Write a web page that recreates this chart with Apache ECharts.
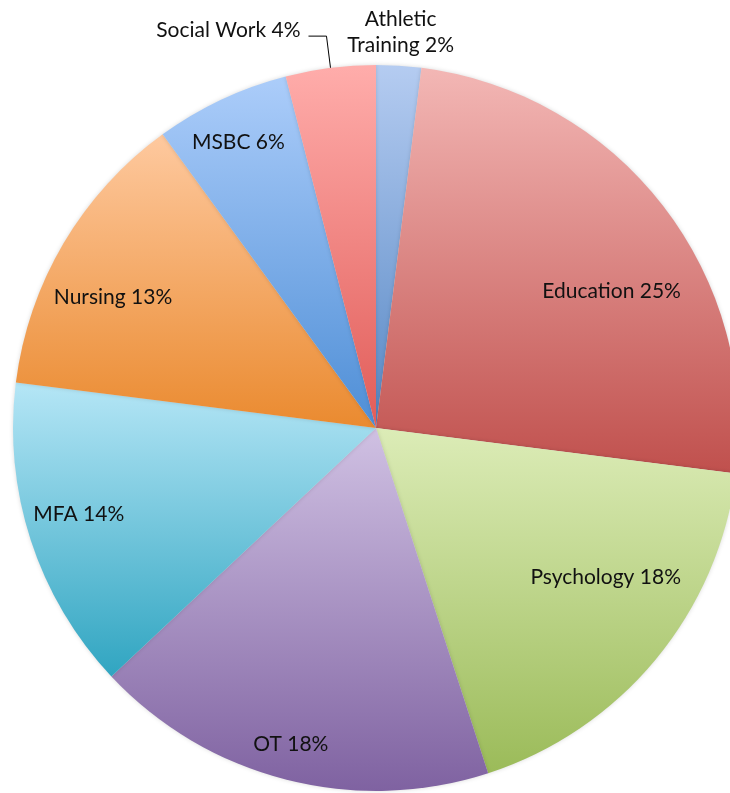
<!DOCTYPE html>
<html>
<head>
<meta charset="utf-8">
<script src="https://cdn.jsdelivr.net/npm/echarts@6/dist/echarts.min.js"></script>
<style>
  html, body { margin: 0; padding: 0; background: #fff; }
  #main { width: 730px; height: 793px; }
</style>
</head>
<body>
<div id="main"></div>
<script>
// slices, clockwise from 12 o'clock
var categories = ['Athletic Training', 'Education', 'Psychology', 'OT', 'MFA', 'Nursing', 'MSBC', 'Social Work'];
var shares = [2, 25, 18, 18, 14, 13, 6, 4];
var labelText = ['Athletic\nTraining 2%', 'Education 25%', 'Psychology 18%', 'OT 18%', 'MFA 14%', 'Nursing 13%', 'MSBC 6%', 'Social Work 4%'];

// top / bottom colour of each slice's gradient
var topColors = ['#b5ccf1', '#f3b7b5', '#dcecb7', '#d0c1e3', '#b5e6f6', '#fec99f', '#accdfa', '#ffadab'];
var bottomColors = ['#5687c4', '#c0504d', '#9bbb59', '#7f62a1', '#30a5c1', '#ea8a2f', '#4e8ed6', '#e15c58'];

var outsideNames = ['Athletic Training', 'Social Work'];

// nudges so the labels sit where the original (excel "best fit") put them
var labelShift = [[-15, -4], [-3, 48], [-3, -43], [-10, 24], [-10, -7], [-3, 23], [-9, -13], [-3, -6]];

function grad(i) {
  return new echarts.graphic.LinearGradient(0, 0, 0, 1, [
    { offset: 0, color: topColors[i] },
    { offset: 1, color: bottomColors[i] }
  ]);
}

var font = { fontFamily: 'Lato', fontSize: 21, color: '#111' };

var mainData = categories.map(function (name, i) {
  var outside = outsideNames.indexOf(name) >= 0;
  return {
    name: name,
    value: shares[i],
    itemStyle: { color: grad(i) },
    label: { show: outside, formatter: labelText[i] },
    labelLine: name === 'Social Work'
      ? { show: true, length: 32, length2: 18 }
      : { show: false }
  };
});

var labelData = categories.map(function (name, i) {
  return {
    name: name,
    value: shares[i],
    label: { show: outsideNames.indexOf(name) < 0, formatter: labelText[i] }
  };
});

function shift(params) {
  var s = labelShift[params.dataIndex];
  var res = { dx: s[0], dy: s[1] };
  if (params.dataIndex === 0) res.align = 'center';
  return res;
}

var chart = echarts.init(document.getElementById('main'), null, { renderer: 'canvas' });
chart.setOption({
  animation: false,
  series: [
    {
      type: 'pie',
      center: [376, 428],
      radius: [0, 363],
      startAngle: 90,
      clockwise: true,
      avoidLabelOverlap: false,
      silent: true,
      itemStyle: { borderWidth: 0, shadowBlur: 4, shadowColor: 'rgba(0,0,0,0.15)' },
      label: Object.assign({ position: 'outside', lineHeight: 26, alignTo: 'none' }, font),
      labelLine: { length: 30, length2: 10, lineStyle: { color: '#000', width: 1 } },
      labelLayout: shift,
      data: mainData
    },
    {
      type: 'pie',
      center: [376, 428],
      radius: [235, 363],
      startAngle: 90,
      clockwise: true,
      avoidLabelOverlap: false,
      silent: true,
      itemStyle: { color: 'transparent', borderWidth: 0 },
      label: Object.assign({ position: 'inside' }, font),
      labelLine: { show: false },
      labelLayout: shift,
      data: labelData
    }
  ]
});
</script>
</body>
</html>
